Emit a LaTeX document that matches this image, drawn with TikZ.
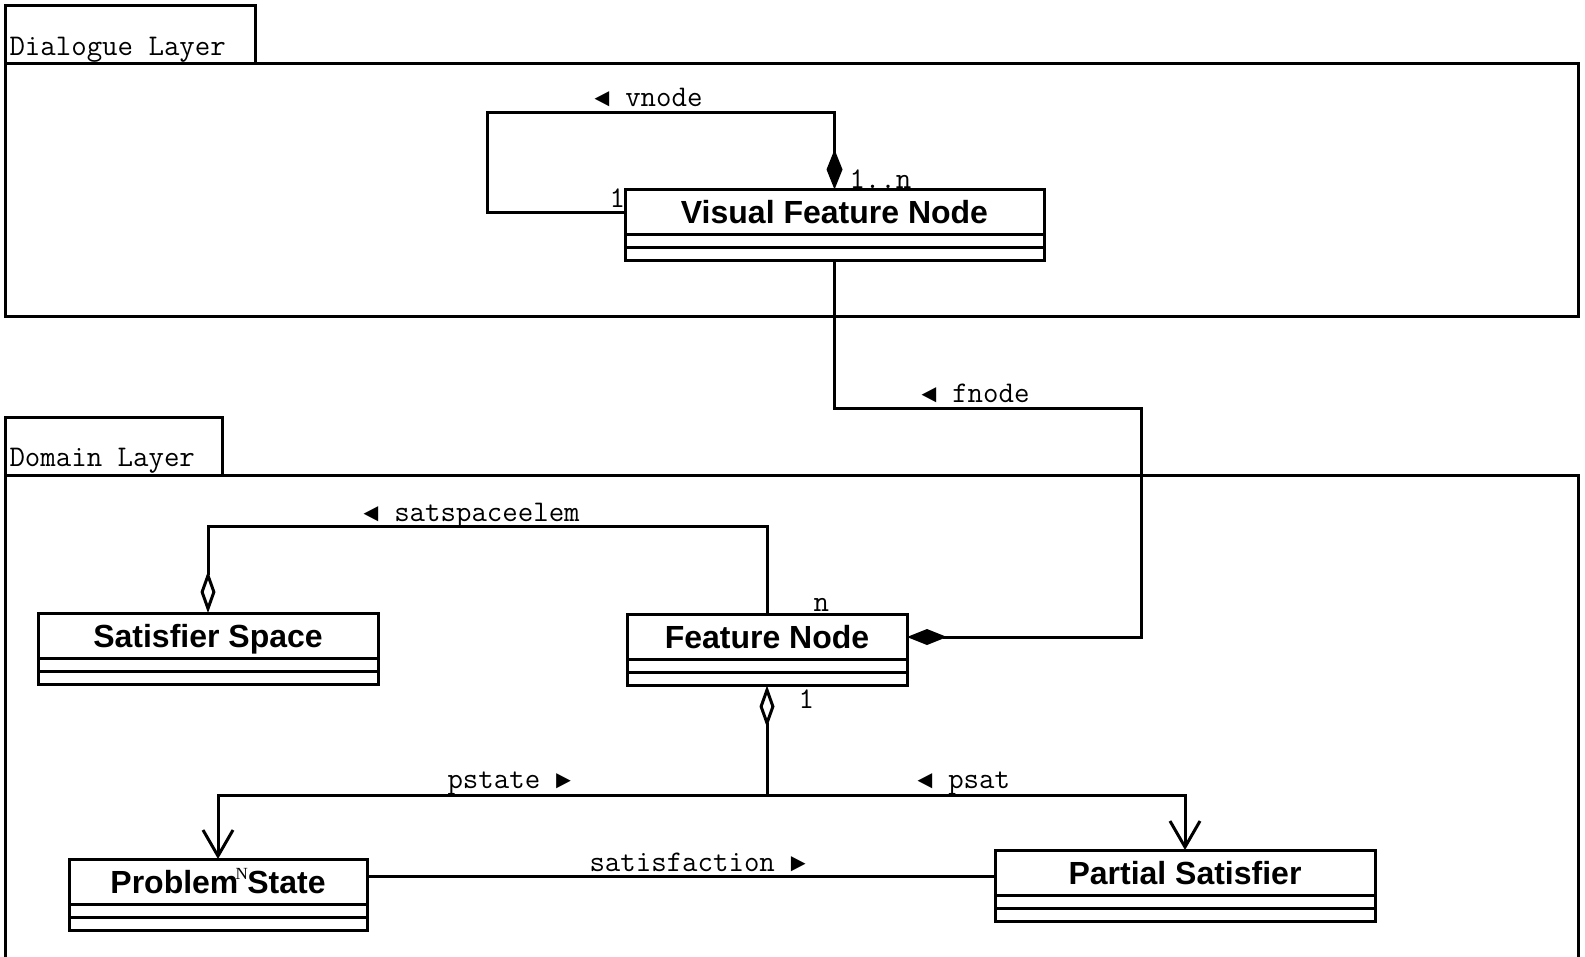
\documentclass[tikz,border=0pt]{standalone}
\usepackage{fontspec}
\setmainfont{Liberation Sans}
\newfontfamily\trifont{Liberation Mono}
\newfontfamily\smallserif{Liberation Serif}
\newcommand{\ltri}{{\trifont\fontsize{25.5}{30}\selectfont ◄}}
\newcommand{\rtri}{{\trifont\fontsize{25.5}{30}\selectfont ►}}
\usetikzlibrary{positioning,arrows.meta}

\begin{document}
\begin{tikzpicture}[x=1pt,y=-1pt,line width=3pt,
  cls/.style={draw, rectangle, outer sep=0pt, inner sep=0pt, minimum height=45pt,
    text height=23pt, text depth=0pt, font=\fontsize{32}{36}\selectfont\bfseries},
  comp/.style={draw, rectangle, outer sep=0pt, inner sep=0pt, minimum height=13pt},
  lbl/.style={anchor=base west, inner sep=0pt, font=\fontsize{30}{34}\selectfont\ttfamily},
  compo/.style={-{Diamond[length=40pt,width=16pt]}},
  aggr/.style={-{Diamond[open,fill=white,length=42pt,width=15pt]}},
  nav/.style={-{Straight Barb[length=26pt,width=30pt]}}]
\useasboundingbox (0,0) rectangle (1585,956);
\clip (0,0) rectangle (1585,956);

% packages
\draw (5,5) rectangle (255,63);
\draw (5,63) rectangle (1578,316);
\node[lbl] (dlg) at (8,55) {Dialogue Layer};
\draw (5,417) rectangle (222,475);
\draw (5,475) rectangle (1578,1000);
\node[lbl] (dom) at (8,466) {Domain Layer};

% classes
\node[cls, minimum width=419pt] (vfn) at (834.5,212) {Visual Feature Node};
\node[comp, minimum width=419pt, below=0pt of vfn] (vfn-a) {};
\node[comp, minimum width=419pt, below=0pt of vfn-a] (vfn-o) {};

\node[cls, minimum width=340pt] (ss) at (208,635.5) {Satisfier Space};
\node[comp, minimum width=340pt, below=0pt of ss] (ss-a) {};
\node[comp, minimum width=340pt, below=0pt of ss-a] (ss-o) {};

\node[cls, minimum width=280pt] (fn) at (767,637) {Feature Node};
\node[comp, minimum width=280pt, below=0pt of fn] (fn-a) {};
\node[comp, minimum width=280pt, below=0pt of fn-a] (fn-o) {};

\node[cls, minimum width=298pt] (ps) at (218,881.5) {Problem State};
\node[comp, minimum width=298pt, below=0pt of ps] (ps-a) {};
\node[comp, minimum width=298pt, below=0pt of ps-a] (ps-o) {};

\node[cls, minimum width=380pt] (pas) at (1185,872.5) {Partial Satisfier};
\node[comp, minimum width=380pt, below=0pt of pas] (pas-a) {};
\node[comp, minimum width=380pt, below=0pt of pas-a] (pas-o) {};

% bends
\coordinate (vloop) at (487,112);
\coordinate (fbend) at (1141,408);
\coordinate (sbend) at (208,526);
\coordinate (junc) at (767,795);

% associations
\draw[compo] (vfn.west) -| (vloop) -| (vfn.north);
\draw[compo] (vfn-o.south) |- (fbend) |- (fn.east);
\draw[aggr] (fn.north) |- (sbend) -- (ss.north);
\draw[aggr] (junc) -- (fn-o.south);
\draw[nav] (junc) -| (ps.north);
\draw[nav] (junc) -| (pas.north);
\draw ([yshift=5pt]ps.east) -- ([yshift=5pt]ps.east -| pas.west);

% labels
\node[lbl] (lv) at (593,106) {\ltri{} vnode};
\node[lbl] (m1n) at (848,188) {1..n};
\node[lbl] (m1) at (608,207) {1};
\node[lbl] (lf) at (920,402) {\ltri{} fnode};
\node[lbl] (ls) at (362,521) {\ltri{} satspaceelem};
\node[lbl] (mn) at (812,611) {n};
\node[lbl] (m1b) at (797,708) {1};
\node[lbl] (lp) at (446,788) {pstate \rtri};
\node[lbl] (lps) at (916,788) {\ltri{} psat};
\node[lbl] (lsat) at (588,871) {satisfaction \rtri};
\node[anchor=base west, inner sep=0pt, font=\fontsize{17}{20}\selectfont\smallserif] (mN) at (234,879) {N};
\end{tikzpicture}
\end{document}
